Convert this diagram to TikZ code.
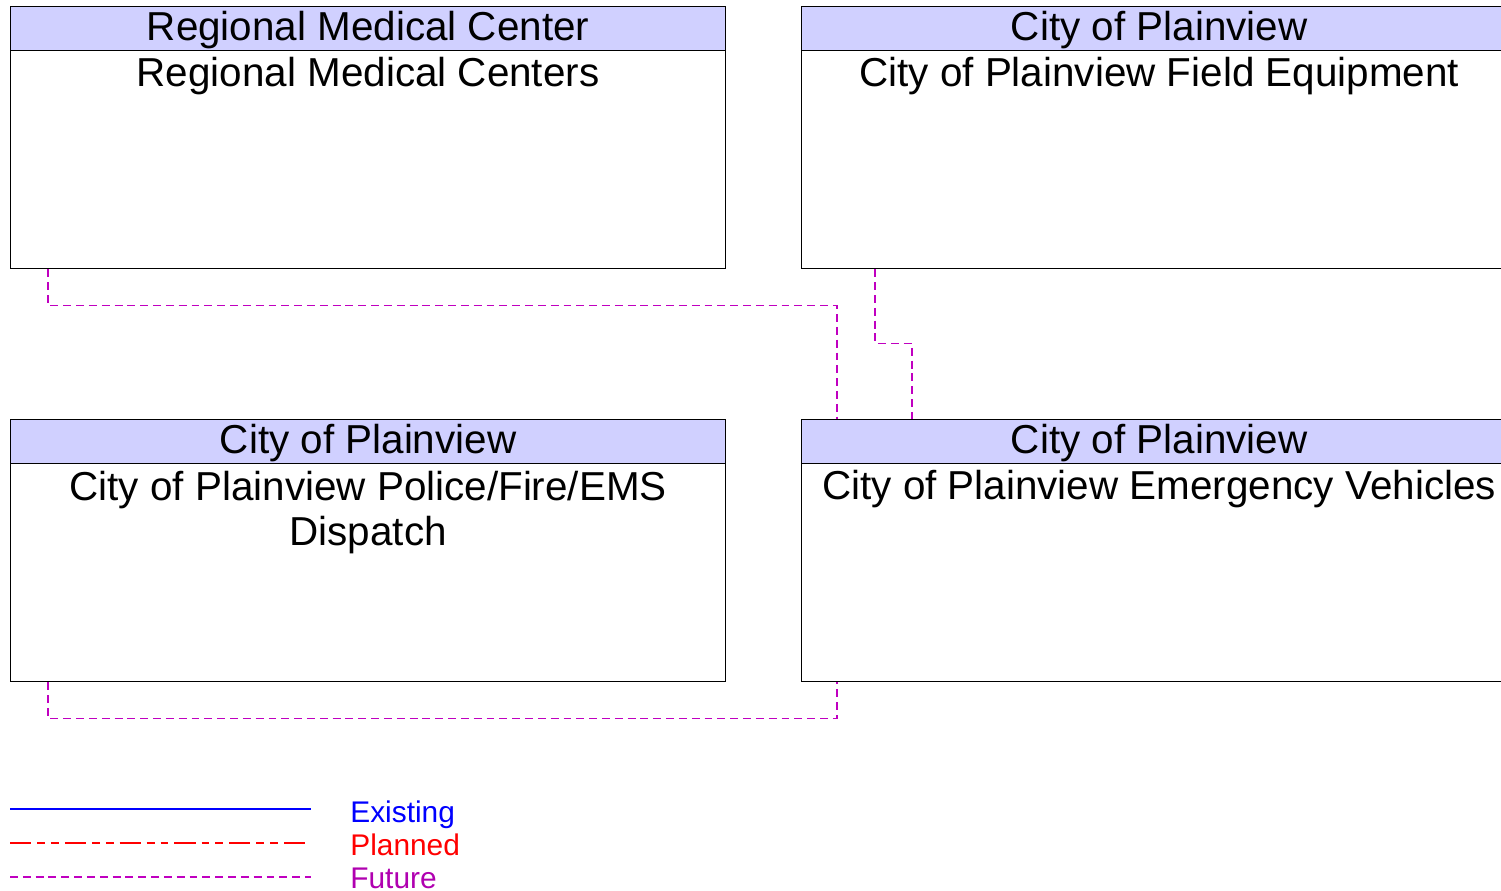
\documentclass[tikz,border=0pt]{standalone}
\usepackage{fontspec}
\setmainfont{Liberation Sans}
\usepackage{xcolor}
\usepackage{tikz}
\usetikzlibrary{positioning,calc}
\definecolor{headfill}{HTML}{D0D0FF}
\definecolor{futurec}{HTML}{C000C0}
\definecolor{futuretext}{HTML}{B000B0}
\definecolor{existc}{HTML}{0000FF}
\definecolor{plannedc}{HTML}{FF0000}
\tikzset{
  sysbox/.style={draw, line width=.8pt, fill=white, minimum width=14.3cm, minimum height=5.24cm, inner sep=0pt},
  syshead/.style={draw, line width=.8pt, fill=headfill, minimum width=14.3cm, minimum height=.88cm, inner sep=0pt,
    text height=19.3pt, text depth=5.7pt, font=\fontsize{23}{26}\selectfont},
  systext/.style={align=center, inner sep=0pt, anchor=north, font=\fontsize{23}{26}\selectfont},
  future/.style={draw=futurec, line width=.6pt, dash pattern=on 4.5pt off 2.8pt},
  planned/.style={draw=plannedc, line width=.6pt, dash pattern=on 12pt off 3.4pt on 4.5pt off 3.4pt on 4.5pt off 3.4pt},
  existing/.style={draw=existc, line width=1.6pt},
  lgd/.style={anchor=base west, inner sep=0pt, font=\fontsize{17}{19}\selectfont},
}
\begin{document}
\begin{tikzpicture}[x=0.02cm,y=-0.02cm]
    \clip (0,0) rectangle (1501,890);
    \fill[white] (0,0) rectangle (1501,890);

    % systems
    \node[sysbox, anchor=north west] (rmc) at (10,6) {};
    \node[syshead, anchor=north] (rmchead) at (rmc.north) {Regional Medical Center};
    \node[systext] (rmctext) at ([yshift=-.10cm]rmchead.south) {Regional Medical Centers};

    \node[sysbox, anchor=north west] (fe) at (801,6) {};
    \node[syshead, anchor=north] (fehead) at (fe.north) {City of Plainview};
    \node[systext] (fetext) at ([yshift=-.10cm]fehead.south) {City of Plainview Field Equipment};

    \node[sysbox, anchor=north west] (disp) at (10,419) {};
    \node[syshead, anchor=north] (disphead) at (disp.north) {City of Plainview};
    \node[systext] (disptext) at ([yshift=-.12cm]disphead.south) {City of Plainview Police/Fire/EMS\\Dispatch};

    \node[sysbox, anchor=north west] (ev) at (801,419) {};
    \node[syshead, anchor=north] (evhead) at (ev.north) {City of Plainview};
    \node[systext] (evtext) at ([yshift=-.10cm]evhead.south) {City of Plainview Emergency Vehicles};

    % flows
    \draw[future] ([xshift=.76cm]rmc.south west) -- ++(0,36) -| ([xshift=.72cm]ev.north west);
    \draw[future] ([xshift=1.48cm]fe.south west) -- ++(0,74) -| ([xshift=2.22cm]ev.north west);
    \draw[future] ([xshift=.76cm]disp.south west) -- ++(0,36) -| ([xshift=.72cm]ev.south west);

    % legend
    \draw[existing] (10,809) -- (311,809);
    \draw[planned] (10,843) -- (311,843);
    \draw[future] (10,877) -- (311,877);
    \node[lgd, text=existc] (lgdexist) at (350,822.5) {Existing};
    \node[lgd, text=plannedc] (lgdplan) at (350,855.5) {Planned};
    \node[lgd, text=futuretext] (lgdfut) at (350,888.5) {Future};
\end{tikzpicture}
\end{document}
